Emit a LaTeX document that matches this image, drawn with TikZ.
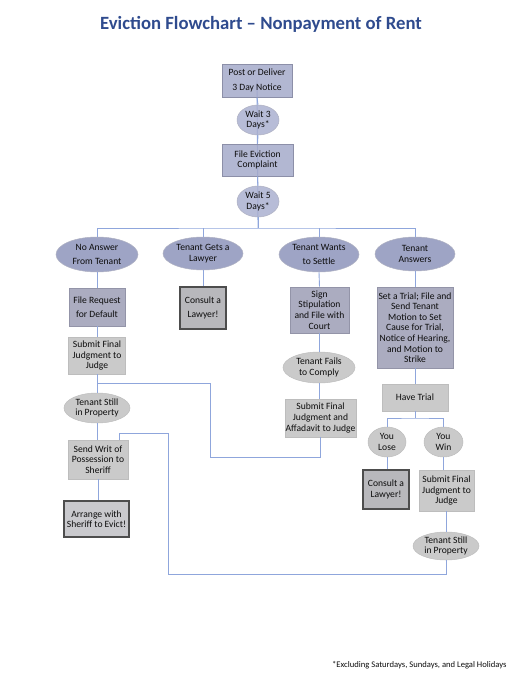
\documentclass[tikz,border=0pt]{standalone}
\usepackage{fontspec}
\setmainfont{Carlito}
\usetikzlibrary{shapes.geometric,backgrounds}
\definecolor{titleblue}{HTML}{2F4B8E}
\definecolor{txt}{HTML}{0D0D0D}
\definecolor{connblue}{HTML}{8FA6DC}
\definecolor{bluefill}{HTML}{A5AACA}
\definecolor{blueline}{HTML}{8C8FA8}
\definecolor{waitfill}{HTML}{AAB0D0}
\definecolor{ansfill}{HTML}{9EA4C5}
\definecolor{gbfill}{HTML}{ABACC0}
\definecolor{gbline}{HTML}{9394A8}
\definecolor{lgfill}{HTML}{CACACA}
\definecolor{lgline}{HTML}{BDBDBD}
\definecolor{clfill}{HTML}{B8B8BC}
\definecolor{arrfill}{HTML}{C9C9CD}
\definecolor{darkline}{HTML}{4D4D4D}
\begin{document}
\begin{tikzpicture}[x=1pt,y=-1pt,
  basetext/.style={align=center, text=txt, inner sep=0pt, font=\fontsize{9.6}{10.6}\selectfont},
  loose/.style={font=\fontsize{9.6}{14.6}\selectfont},
  bluebox/.style={basetext, rectangle, draw=blueline, fill=bluefill, line width=0.8pt, fill opacity=0.85, text opacity=1},
  waitell/.style={basetext, ellipse, draw=blueline!70, fill=waitfill, line width=0.5pt, fill opacity=0.85, text opacity=1},
  ansell/.style={basetext, ellipse, draw=blueline!70, fill=ansfill, line width=0.5pt},
  gbbox/.style={basetext, rectangle, draw=gbline, fill=gbfill, line width=0.7pt},
  lgbox/.style={basetext, rectangle, draw=lgline, fill=lgfill, line width=0.6pt},
  lgell/.style={basetext, ellipse, draw=lgline, fill=lgfill, line width=0.5pt},
  consult/.style={basetext, rectangle, draw=darkline, fill=clfill, line width=1.4pt},
  evict/.style={basetext, rectangle, draw=darkline, fill=arrfill, line width=1.4pt},
  conn/.style={draw=connblue, line width=0.9pt}
]
\useasboundingbox (0,0) rectangle (525,679);

\node[anchor=base, text=titleblue, font=\fontsize{18.7}{22}\selectfont\bfseries] (title) at (261,30) {Eviction Flowchart – Nonpayment of Rent};

\node[bluebox, loose, minimum width=70, minimum height=33] (post) at (257,80.5) {Post or Deliver\\3 Day Notice};
\node[waitell, minimum width=42, minimum height=30] (w3) at (258,120) {Wait 3\\Days*};
\node[bluebox, minimum width=71, minimum height=32] (fec) at (257.5,160) {File Eviction\\Complaint};
\node[waitell, minimum width=42, minimum height=31] (w5) at (258,201.5) {Wait 5\\Days*};
\coordinate (j1) at (258,228);

\node[ansell, loose, minimum width=82, minimum height=35] (noans) at (97,254.5) {No Answer\\From Tenant};
\node[ansell, minimum width=80, minimum height=33] (gets) at (203,253.5) {Tenant Gets a\\Lawyer};
\node[ansell, loose, minimum width=80, minimum height=35] (settle) at (319,254.5) {Tenant Wants\\to Settle};
\node[ansell, minimum width=80, minimum height=34] (answers) at (415,254) {Tenant\\Answers};

\node[gbbox, font=\fontsize{9.6}{14}\selectfont, minimum width=56, minimum height=38] (freq) at (97,307) {File Request\\for Default};
\node[consult, font=\fontsize{9.6}{14}\selectfont, minimum width=46, minimum height=42] (cl1) at (203,308) {Consult a\\Lawyer!};
\node[gbbox, minimum width=59, minimum height=46] (sign) at (319.5,310) {Sign\\Stipulation\\and File with\\Court};
\node[gbbox, minimum width=76, minimum height=81] (strial) at (415,327.5) {Set a Trial; File and\\Send Tenant\\Motion to Set\\Cause for Trial,\\Notice of Hearing,\\and Motion to\\Strike};

\node[lgbox, minimum width=57, minimum height=37] (sfl) at (97,355.5) {Submit Final\\Judgment to\\Judge};
\node[lgell, minimum width=66, minimum height=30] (stl) at (97,408) {Tenant Still\\in Property};
\node[lgbox, minimum width=60, minimum height=39] (writ) at (98,459.5) {Send Writ of\\Possession to\\Sheriff};
\node[evict, minimum width=65, minimum height=36] (arr) at (96.5,519) {Arrange with\\Sheriff to Evict!};

\node[lgell, minimum width=72, minimum height=31] (fails) at (319,367.5) {Tenant Fails\\to Comply};
\node[lgbox, minimum width=71, minimum height=38] (aff) at (320.5,418) {Submit Final\\Judgment and\\Affadavit to Judge};

\node[lgbox, minimum width=66, minimum height=27] (trial) at (415,397.5) {Have Trial};
\coordinate (j2) at (415,418);
\node[lgell, minimum width=38, minimum height=30] (lose) at (387,442) {You\\Lose};
\node[lgell, minimum width=39, minimum height=30] (win) at (443.5,442) {You\\Win};
\node[consult, minimum width=46, minimum height=39] (cl2) at (386,489.5) {Consult a\\Lawyer!};
\node[lgbox, minimum width=55, minimum height=41] (sfr) at (446.5,490.5) {Submit Final\\Judgment to\\Judge};
\node[lgell, minimum width=66, minimum height=28] (str) at (446,546) {Tenant Still\\in Property};

\coordinate (c1) at (168,574);
\coordinate (c2) at (119,433);
\coordinate (c3) at (210,457);
\coordinate (c4) at (97,383);

\begin{pgfonlayer}{background}
\draw[conn] (post.center) -- (j1);
\end{pgfonlayer}
\draw[conn] (post.south) -- (w3.north);
\draw[conn] (w3.south) -- (fec.north);
\draw[conn] (fec.south) -- (w5.north);
\draw[conn] (w5.south) -- (j1);
\draw[conn] (noans.north) |- (j1) -| (answers.north);
\draw[conn] (gets.north) -- (gets.north |- j1);
\draw[conn] (settle.north) -- (settle.north |- j1);

\draw[conn] (noans.south) -- (freq.north);
\draw[conn] (freq.south) -- (sfl.north);
\draw[conn] (sfl.south) -- (stl.north);
\draw[conn] (stl.south) -- (stl.south |- writ.north);
\draw[conn] (writ.south) -- (writ.south |- arr.north);

\draw[conn] (gets.south) -- (cl1.north);

\draw[conn] (settle.south) -- (sign.north);
\draw[conn] (sign.south) -- (sign.south |- fails.north);
\draw[conn] (fails.south) -- (fails.south |- aff.north);
\draw[conn] (aff.south) |- (c3) |- (c4);

\draw[conn] (answers.south) -- (strial.north);
\draw[conn] (strial.south) -- (trial.north);
\draw[conn] (trial.south) -- (j2);
\draw[conn] (lose.north) |- (j2) -| (win.north);
\draw[conn] (lose.south) -- (lose.south |- cl2.north);
\draw[conn] (win.south) -- (win.south |- sfr.north);
\draw[conn] (sfr.south) -- (sfr.south |- str.north);
\draw[conn] (str.south) |- (c1) |- (c2) -- (c2 |- writ.north);

\node[anchor=base west, text=txt, inner sep=0pt, font=\fontsize{8.6}{10}\selectfont] (foot) at (332,667) {*Excluding Saturdays, Sundays, and Legal Holidays};
\end{tikzpicture}
\end{document}
